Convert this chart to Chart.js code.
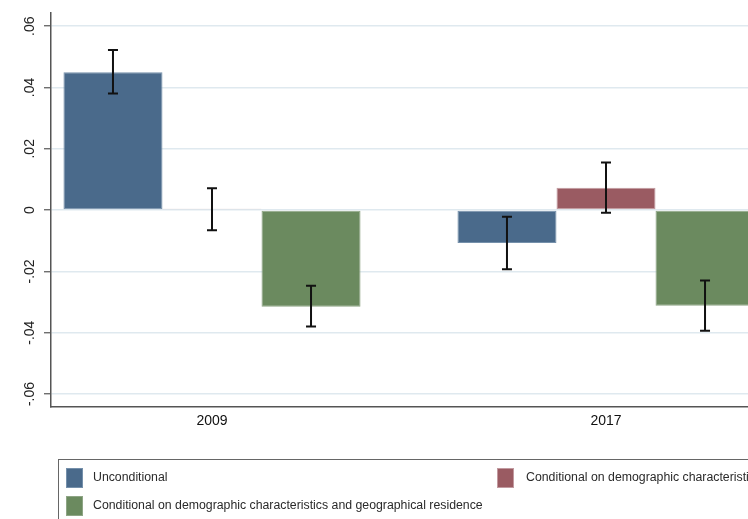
<!DOCTYPE html>
<html>
<head>
<meta charset="utf-8">
<script src="https://cdn.jsdelivr.net/npm/chart.js@4/dist/chart.umd.min.js"></script>
<style>
  html, body { margin: 0; padding: 0; background: #fff; overflow: hidden; width: 748px; height: 519px; }
  #wrap { position: absolute; left: 0; top: 0; width: 790px; height: 519px; }
</style>
</head>
<body>
<div id="wrap"><canvas id="myChart"></canvas></div>
<script>
const years = [2009, 2017];
const seriesNames = [
  'Unconditional',
  'Conditional on demographic characteristics',
  'Conditional on demographic characteristics and geographical residence'
];
const unconditional = [0.0450, -0.0107];
const unconditionalLo = [0.0380, -0.0193];
const unconditionalHi = [0.0522, -0.0022];
const demographic = [0.0004, 0.0073];
const demographicLo = [-0.0066, -0.0009];
const demographicHi = [0.0071, 0.0155];
const geographic = [-0.0315, -0.0312];
const geographicLo = [-0.0380, -0.0394];
const geographicHi = [-0.0247, -0.0230];
const yTicks = [-0.06, -0.04, -0.02, 0, 0.02, 0.04, 0.06];
const yTickLabels = ['-.06', '-.04', '-.02', '0', '.02', '.04', '.06'];

const colors = ['#4a6a8b', '#9a5b62', '#6b8a5f'];
const borders = ['#7590ab', '#c29aa0', '#8ea585'];
const fontFamily = "'Liberation Sans', Arial, sans-serif";

const values = [unconditional, demographic, geographic];
const lows = [unconditionalLo, demographicLo, geographicLo];
const highs = [unconditionalHi, demographicHi, geographicHi];

// error bars drawn on top of each bar
const errorBars = {
  id: 'errorBars',
  afterDatasetsDraw(chart) {
    const ctx = chart.ctx;
    const y = chart.scales.y;
    ctx.save();
    ctx.strokeStyle = '#111';
    ctx.lineWidth = 2;
    chart.data.datasets.forEach((ds, i) => {
      chart.getDatasetMeta(i).data.forEach((bar, j) => {
        const top = y.getPixelForValue(highs[i][j]);
        const bot = y.getPixelForValue(lows[i][j]);
        ctx.beginPath();
        ctx.moveTo(bar.x, top); ctx.lineTo(bar.x, bot);
        ctx.moveTo(bar.x - 5, top); ctx.lineTo(bar.x + 5, top);
        ctx.moveTo(bar.x - 5, bot); ctx.lineTo(bar.x + 5, bot);
        ctx.stroke();
      });
    });
    ctx.restore();
  }
};

// vertical y labels and the boxed legend underneath
const extras = {
  id: 'extras',
  afterDraw(chart) {
    const ctx = chart.ctx;
    const y = chart.scales.y;
    ctx.save();
    ctx.fillStyle = '#222';
    ctx.font = '14px ' + fontFamily;
    ctx.textAlign = 'center';
    ctx.textBaseline = 'middle';
    yTicks.forEach((v, i) => {
      ctx.save();
      ctx.translate(30, y.getPixelForValue(v));
      ctx.rotate(-Math.PI / 2);
      ctx.fillText(yTickLabels[i], 0, 0);
      ctx.restore();
    });

    ctx.strokeStyle = '#666';
    ctx.lineWidth = 1;
    ctx.strokeRect(58.5, 459.5, 760, 80);
    const items = [[66, 468, 93], [497, 468, 526], [66, 496, 93]];
    ctx.font = '12.3px ' + fontFamily;
    ctx.textAlign = 'left';
    chart.data.datasets.forEach((ds, i) => {
      const [kx, ky, tx] = items[i];
      ctx.fillStyle = ds.backgroundColor;
      ctx.fillRect(kx, ky, 17, 20);
      ctx.strokeStyle = ds.borderColor;
      ctx.strokeRect(kx + 0.5, ky + 0.5, 16, 19);
      ctx.fillStyle = '#2a2a2a';
      ctx.fillText(ds.label, tx, ky + 10);
    });
    ctx.restore();
  }
};

const ctx = document.getElementById('myChart').getContext('2d');
new Chart(ctx, {
  type: 'bar',
  data: {
    datasets: values.map((vals, i) => ({
      label: seriesNames[i],
      data: years.map((yr, j) => ({ x: yr, y: vals[j] })),
      backgroundColor: colors[i],
      borderColor: borders[i],
      borderWidth: 1,
      borderSkipped: false
    }))
  },
  options: {
    responsive: true,
    maintainAspectRatio: false,
    animation: false,
    categoryPercentage: 0.754,
    barPercentage: 1,
    layout: { padding: { left: 44, right: 23, top: 13, bottom: 83 } },
    plugins: { legend: { display: false }, tooltip: { enabled: false } },
    scales: {
      x: {
        type: 'linear',
        offset: false,
        min: 2005.731,
        max: 2020.269,
        afterBuildTicks: (axis) => { axis.ticks = years.map(v => ({ value: v })); },
        ticks: {
          callback: (v) => String(v),
          color: '#111',
          font: { size: 14, family: fontFamily },
          padding: 6,
          maxRotation: 0,
          autoSkip: false
        },
        grid: { display: false, drawTicks: false, offset: false },
        border: { color: '#555', width: 1.5 }
      },
      y: {
        min: -0.0643,
        max: 0.0643,
        afterBuildTicks: (axis) => { axis.ticks = yTicks.map(v => ({ value: v })); },
        ticks: { display: false },
        grid: { color: '#dfe9ef', lineWidth: 1.5, tickLength: 7, tickColor: '#555', tickWidth: 1.2 },
        border: { color: '#555', width: 1.5 }
      }
    }
  },
  plugins: [errorBars, extras]
});
</script>
</body>
</html>
